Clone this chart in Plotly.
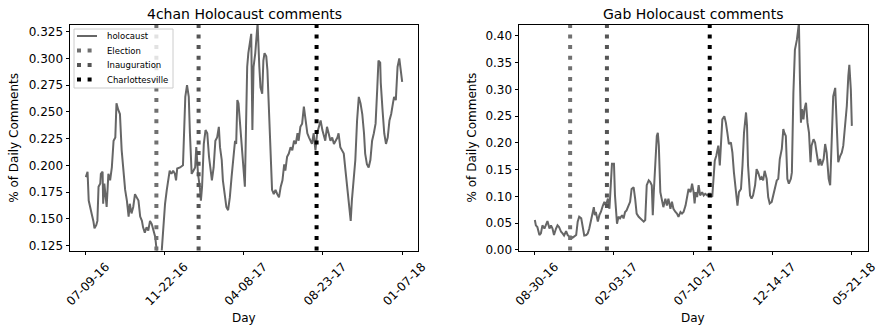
import pandas as pd
import plotly.graph_objects as go

# ---------------- data ----------------
chan_start = "2016-07-09"
chan_days = [0, 3, 5, 8, 10, 13, 15, 18, 20, 22, 25, 26, 29, 30, 32, 35, 36, 39, 42, 45,
             48, 51, 53, 56, 59, 62, 65, 68, 71, 74, 76, 79, 82, 85, 88, 91, 94, 97, 99, 102,
             105, 108, 111, 114, 117, 120, 122, 125, 128, 131, 134, 137, 140, 143, 145, 148, 151, 154, 156, 158,
             163, 168, 170, 172, 175, 178, 180, 183, 186, 189, 191, 194, 197, 199, 201, 204, 207, 210, 213, 216,
             218, 221, 224, 227, 230, 232, 235, 237, 240, 243, 246, 249, 252, 255, 258, 260, 262, 264, 266, 269,
             272, 275, 277, 279, 281, 283, 286, 288, 290, 293, 295, 297, 300, 302, 305, 307, 309, 312, 314, 317,
             320, 322, 325, 328, 331, 334, 337, 340, 343, 345, 348, 351, 354, 357, 360, 363, 366, 368, 371, 374,
             377, 380, 383, 386, 389, 391, 394, 397, 400, 403, 406, 409, 412, 414, 417, 420, 423, 426, 429, 432,
             435, 437, 440, 443, 446, 449, 452, 455, 458, 460, 463, 466, 469, 472, 475, 478, 481, 483, 486, 489,
             492, 495, 498, 501, 504, 506, 509, 510, 513, 516, 519, 522, 525, 528, 531, 533, 536, 539, 542, 545, 547]
chan_values = [0.189, 0.194, 0.167, 0.158, 0.155, 0.148, 0.141, 0.144, 0.148, 0.180, 0.183, 0.192, 0.194, 0.164, 0.183, 0.167, 0.161, 0.192, 0.186, 0.198,
               0.223, 0.226, 0.258, 0.252, 0.248, 0.214, 0.192, 0.177, 0.167, 0.152, 0.164, 0.155, 0.161, 0.173, 0.170, 0.167, 0.152, 0.148, 0.142, 0.137,
               0.142, 0.139, 0.148, 0.145, 0.139, 0.133, 0.123, 0.112, 0.100, 0.118, 0.142, 0.164, 0.177, 0.186, 0.195, 0.192, 0.195, 0.192, 0.186, 0.197,
               0.198, 0.200, 0.230, 0.264, 0.275, 0.264, 0.230, 0.192, 0.195, 0.198, 0.217, 0.192, 0.180, 0.167, 0.180, 0.220, 0.233, 0.230, 0.208, 0.192,
               0.186, 0.198, 0.223, 0.226, 0.236, 0.217, 0.205, 0.186, 0.173, 0.161, 0.158, 0.170, 0.189, 0.208, 0.223, 0.220, 0.261, 0.258, 0.245, 0.223,
               0.205, 0.180, 0.236, 0.292, 0.305, 0.311, 0.323, 0.233, 0.292, 0.305, 0.317, 0.333, 0.292, 0.273, 0.267, 0.298, 0.305, 0.302, 0.289, 0.248,
               0.214, 0.177, 0.173, 0.177, 0.173, 0.170, 0.180, 0.186, 0.201, 0.195, 0.208, 0.211, 0.217, 0.214, 0.223, 0.220, 0.230, 0.223, 0.236, 0.239,
               0.255, 0.242, 0.230, 0.226, 0.223, 0.220, 0.230, 0.214, 0.230, 0.236, 0.242, 0.233, 0.226, 0.223, 0.236, 0.230, 0.223, 0.226, 0.220, 0.223,
               0.226, 0.230, 0.217, 0.214, 0.211, 0.195, 0.180, 0.164, 0.148, 0.167, 0.189, 0.205, 0.242, 0.264, 0.258, 0.248, 0.230, 0.211, 0.201, 0.198,
               0.205, 0.223, 0.230, 0.239, 0.273, 0.298, 0.296, 0.277, 0.252, 0.230, 0.220, 0.226, 0.242, 0.248, 0.258, 0.264, 0.261, 0.292, 0.300, 0.286, 0.278]

gab_start = "2016-08-30"
gab_days = [0, 2, 5, 9, 12, 15, 19, 22, 25, 29, 32, 35, 38, 42, 45, 48, 52, 55, 58, 62,
            65, 68, 72, 75, 78, 82, 85, 88, 92, 95, 98, 102, 105, 108, 111, 115, 117, 119, 121, 125,
            128, 131, 135, 138, 141, 145, 148, 151, 153, 157, 159, 163, 166, 169, 173, 176, 179, 182, 186, 189,
            192, 196, 199, 202, 206, 209, 212, 216, 219, 222, 226, 229, 232, 234, 236, 239, 242, 244, 246, 249,
            252, 255, 259, 262, 265, 269, 272, 275, 279, 282, 285, 289, 292, 295, 299, 302, 305, 309, 312, 315,
            317, 319, 322, 325, 328, 332, 335, 338, 342, 345, 348, 352, 354, 357, 360, 364, 367, 369, 372, 376,
            379, 382, 385, 389, 392, 395, 399, 402, 405, 409, 412, 415, 419, 421, 423, 427, 430, 433, 437, 440,
            443, 447, 450, 453, 456, 460, 463, 466, 470, 473, 476, 480, 483, 486, 490, 493, 495, 498, 501, 504,
            508, 510, 513, 516, 520, 522, 524, 526, 528, 530, 533, 535, 538, 541, 544, 547, 549, 553, 556, 559,
            563, 566, 569, 573, 576, 579, 583, 586, 589, 592, 596, 599, 602, 606, 609, 612, 616, 619, 622, 624, 627, 629]
gab_values = [0.056, 0.046, 0.043, 0.028, 0.031, 0.046, 0.040, 0.046, 0.054, 0.040, 0.046, 0.040, 0.028, 0.040, 0.046, 0.043, 0.034, 0.031, 0.027, 0.035,
              0.028, 0.025, 0.025, 0.023, 0.025, 0.028, 0.053, 0.062, 0.059, 0.040, 0.027, 0.028, 0.031, 0.040, 0.056, 0.071, 0.080, 0.065, 0.071, 0.053,
              0.065, 0.071, 0.083, 0.090, 0.083, 0.096, 0.077, 0.121, 0.161, 0.161, 0.102, 0.049, 0.062, 0.059, 0.065, 0.059, 0.071, 0.074, 0.083, 0.090,
              0.114, 0.117, 0.096, 0.068, 0.062, 0.059, 0.056, 0.053, 0.056, 0.121, 0.130, 0.127, 0.121, 0.065, 0.108, 0.170, 0.213, 0.219, 0.195, 0.108,
              0.096, 0.080, 0.096, 0.083, 0.096, 0.077, 0.090, 0.077, 0.071, 0.068, 0.062, 0.071, 0.068, 0.071, 0.083, 0.099, 0.114, 0.108, 0.124, 0.108,
              0.087, 0.108, 0.099, 0.121, 0.102, 0.108, 0.102, 0.105, 0.102, 0.105, 0.105, 0.099, 0.133, 0.167, 0.176, 0.195, 0.158, 0.201, 0.244, 0.250,
              0.238, 0.219, 0.198, 0.201, 0.182, 0.145, 0.108, 0.083, 0.108, 0.114, 0.158, 0.219, 0.257, 0.232, 0.158, 0.102, 0.096, 0.102, 0.121, 0.151,
              0.145, 0.133, 0.136, 0.130, 0.148, 0.133, 0.099, 0.087, 0.090, 0.102, 0.111, 0.130, 0.133, 0.170, 0.189, 0.226, 0.219, 0.213, 0.133, 0.124,
              0.133, 0.145, 0.294, 0.374, 0.393, 0.417, 0.424, 0.318, 0.238, 0.263, 0.244, 0.263, 0.275, 0.238, 0.219, 0.164, 0.195, 0.207, 0.201, 0.182,
              0.158, 0.170, 0.158, 0.170, 0.198, 0.182, 0.133, 0.121, 0.189, 0.287, 0.303, 0.226, 0.164, 0.176, 0.182, 0.195, 0.232, 0.269, 0.325, 0.346, 0.300, 0.232]

series_name = "holocaust"
event_names = ["Election", "Inauguration", "Charlottesville"]
event_dates = ["2016-11-08", "2017-01-20", "2017-08-12"]
event_colors = ["#707070", "#555555", "#000000"]

chan_ticks = ["07-09-16", "11-22-16", "04-08-17", "08-23-17", "01-07-18"]
gab_ticks = ["08-30-16", "02-03-17", "07-10-17", "12-14-17", "05-21-18"]

chan_yticks = [0.125, 0.150, 0.175, 0.200, 0.225, 0.250, 0.275, 0.300, 0.325]
gab_yticks = [0.00, 0.05, 0.10, 0.15, 0.20, 0.25, 0.30, 0.35, 0.40]
chan_yrange = [0.1203, 0.3313]
gab_yrange = [-0.001, 0.4205]

# ---------------- figure ----------------
FONT = "DejaVu Sans"
W, H = 877, 329
LINE = "#666666"
DASH = "4px,6.6px"

chan_x = pd.Timestamp(chan_start) + pd.to_timedelta(chan_days, unit="D")
gab_x = pd.Timestamp(gab_start) + pd.to_timedelta(gab_days, unit="D")


def xrange_for(xs):
    pad = (xs[-1] - xs[0]) * 0.05
    return [xs[0] - pad, xs[-1] + pad]


fig = go.Figure()
fig.add_trace(go.Scatter(x=chan_x, y=chan_values, mode="lines", name=series_name,
                         line=dict(color=LINE, width=2), xaxis="x", yaxis="y", showlegend=False))
fig.add_trace(go.Scatter(x=gab_x, y=gab_values, mode="lines", name=series_name,
                         line=dict(color=LINE, width=2), xaxis="x2", yaxis="y2", showlegend=False))

for name, d, c in zip(event_names, event_dates, event_colors):
    for xa, ya in (("x", "y"), ("x2", "y2")):
        fig.add_shape(type="line", xref=xa, yref=f"{ya} domain", x0=d, x1=d, y0=0, y1=1,
                      line=dict(color=c, width=4, dash=DASH), layer="above", name=name)

dom1 = [70 / W, 418 / W]
dom2 = [519 / W, 867.7 / W]
ydom = [1 - 250.5 / H, 1 - 25 / H]

axis_common = dict(showline=True, linecolor="#000000", linewidth=1, mirror=True,
                   ticks="outside", ticklen=3.5, tickwidth=1, tickcolor="#000000",
                   showgrid=False, zeroline=False, automargin=False,
                   tickfont=dict(family=FONT, size=12, color="#000000"))

fig.update_layout(
    width=W, height=H,
    margin=dict(l=0, r=0, t=0, b=0, autoexpand=False),
    paper_bgcolor="white", plot_bgcolor="white",
    font=dict(family=FONT, color="#000000"),
    showlegend=False,
    xaxis=dict(domain=dom1, anchor="y", type="date", range=xrange_for(chan_x),
               tickvals=pd.to_datetime(chan_ticks, format="%m-%d-%y"), ticktext=chan_ticks,
               tickangle=-45, ticklabelshift=20, ticklabeloverflow="allow", **axis_common),
    yaxis=dict(domain=ydom, anchor="x", range=chan_yrange, tickvals=chan_yticks,
               tickformat=".3f", **axis_common),
    xaxis2=dict(domain=dom2, anchor="y2", type="date", range=xrange_for(gab_x),
                tickvals=pd.to_datetime(gab_ticks, format="%m-%d-%y"), ticktext=gab_ticks,
                tickangle=-45, ticklabelshift=20, ticklabeloverflow="allow", **axis_common),
    yaxis2=dict(domain=ydom, anchor="x2", range=gab_yrange, tickvals=gab_yticks,
                tickformat=".2f", **axis_common),
)

# ---- legend (drawn like matplotlib's, in pixel units of the paper) ----
def px(x):
    return x / W


def py(y):
    return 1 - y / H


fig.add_shape(type="rect", xref="paper", yref="paper", x0=px(74), x1=px(173), y0=py(88), y1=py(29),
              line=dict(color="#cccccc", width=1), fillcolor="rgba(255,255,255,0.8)", layer="above")
leg_names = [series_name] + event_names
leg_colors = [LINE] + event_colors
leg_widths = [2, 4, 4, 4]
leg_dash = ["solid", DASH, DASH, DASH]
row_y = [36, 50.5, 65, 79.5]
for nm, c, w, ds, ry in zip(leg_names, leg_colors, leg_widths, leg_dash, row_y):
    fig.add_shape(type="line", xref="paper", yref="paper", x0=px(77), x1=px(97), y0=py(ry), y1=py(ry),
                  line=dict(color=c, width=w, dash=ds), layer="above")
    fig.add_annotation(xref="paper", yref="paper", x=px(104.5), y=py(ry), text=nm, showarrow=False,
                       xanchor="left", yanchor="middle",
                       font=dict(family=FONT, size=8.5, color="#000000"))

annots = [
    dict(text="4chan Holocaust comments", x=sum(dom1) / 2, y=py(13.5), font_size=14),
    dict(text="Gab Holocaust comments", x=sum(dom2) / 2, y=py(13.5), font_size=14),
    dict(text="Day", x=sum(dom1) / 2, y=py(318), font_size=12),
    dict(text="Day", x=sum(dom2) / 2, y=py(318), font_size=12),
    dict(text="% of Daily Comments", x=px(14), y=sum(ydom) / 2, font_size=12, textangle=-90),
    dict(text="% of Daily Comments", x=px(471.7), y=sum(ydom) / 2, font_size=12, textangle=-90),
]
for a in annots:
    fs = a.pop("font_size")
    fig.add_annotation(xref="paper", yref="paper", showarrow=False, xanchor="center", yanchor="middle",
                       font=dict(family=FONT, size=fs, color="#000000"), **a)

fig.write_html("out.html", config={"displayModeBar": False},
               post_script="document.body.style.margin='0';")
